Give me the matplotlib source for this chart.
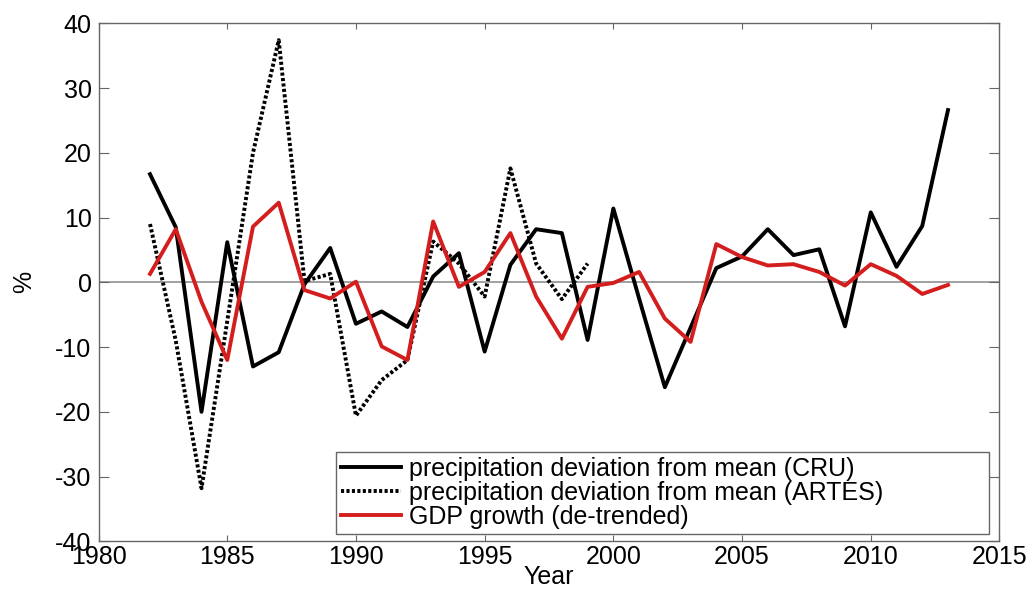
#!/usr/bin/env python3
"""Desviacion de precipitacion (CRU, ARTES) frente al crecimiento del PIB sin tendencia."""

import matplotlib

matplotlib.use("Agg")
import matplotlib.pyplot as plt

# --- datos ---------------------------------------------------------------
anios_cru = list(range(1982, 2014))
precip_cru = [16.7, 8.5, -20.0, 6.2, -13.0, -10.8, -0.3, 5.3, -6.4, -4.5,
              -6.9, 0.9, 4.5, -10.7, 2.7, 8.2, 7.6, -8.9, 11.4, -2.5,
              -16.2, -7.0, 2.2, 4.0, 8.2, 4.2, 5.1, -6.8, 10.8, 2.4,
              8.7, 26.6]

anios_artes = list(range(1982, 2000))
precip_artes = [9.0, -9.0, -31.8, -6.0, 20.0, 37.4, 0.2, 1.3, -20.6, -15.1,
                -12.0, 6.3, 2.9, -2.2, 17.6, 2.9, -2.6, 2.9]

anios_pib = list(range(1982, 2014))
pib_detrend = [1.3, 8.2, -3.0, -12.0, 8.6, 12.3, -1.2, -2.5, 0.1, -9.9,
               -12.0, 9.4, -0.7, 1.6, 7.6, -2.2, -8.7, -0.7, -0.1, 1.6,
               -5.6, -9.2, 5.9, 3.9, 2.6, 2.8, 1.6, -0.5, 2.8, 1.0,
               -1.8, -0.4]

etiquetas = ["precipitation deviation from mean (CRU)",
             "precipitation deviation from mean (ARTES)",
             "GDP growth (de-trended)"]

plt.rcParams["font.family"] = ["Liberation Sans", "DejaVu Sans"]
plt.rcParams["axes.unicode_minus"] = False

fig = plt.figure(figsize=(10.34, 5.9), dpi=100)
ax = fig.add_axes([0.0953, 0.0825, 0.8713, 0.878])

ax.axhline(0, color="0.6", lw=1.3, zorder=1)
ax.plot(anios_cru, precip_cru, color="black", lw=2.8, label=etiquetas[0], zorder=3)
ax.plot(anios_artes, precip_artes, color="black", lw=2.8,
        linestyle=(0, (0.8, 0.6)), label=etiquetas[1], zorder=2)
ax.plot(anios_pib, pib_detrend, color="#d41e1e", lw=2.8, label=etiquetas[2], zorder=4)

ax.set_xlim(1980, 2015)
ax.set_ylim(-40, 40)
ax.set_xticks(range(1980, 2016, 5))
ax.set_yticks(range(-40, 41, 10))

for s in ax.spines.values():
    s.set_color("0.4")
    s.set_linewidth(1.0)
ax.tick_params(direction="in", top=True, right=True, color="0.4",
               labelsize=18, labelcolor="black")
ax.tick_params(axis="x", length=4.5, pad=3)
ax.tick_params(axis="y", length=7, pad=5)

ax.set_xlabel("Year", fontsize=18, labelpad=-3)
ax.set_ylabel("%", fontsize=18, labelpad=14)

leg = ax.legend(loc="lower left", bbox_to_anchor=(0.2636, 0.0141, 0.7251, 0.1577),
                mode="expand", borderaxespad=0, fontsize=18, handlelength=2.4,
                handletextpad=0.3, labelspacing=0.0, borderpad=0.2,
                fancybox=False, framealpha=1, edgecolor="0.4")
leg.get_frame().set_linewidth(1.0)

fig.savefig("out.png", dpi=100)
plt.close(fig)
